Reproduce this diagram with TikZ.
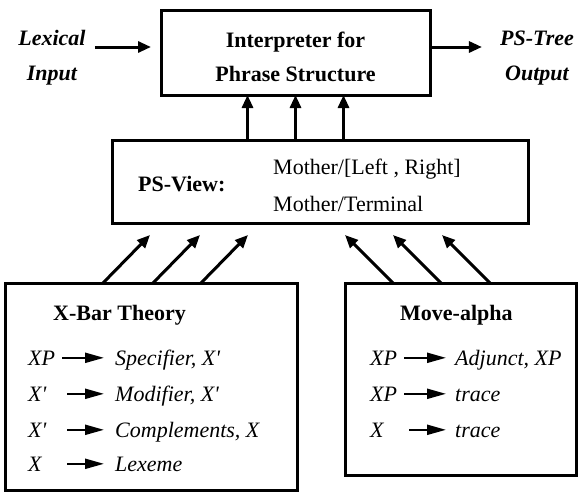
\documentclass[tikz,border=0pt]{standalone}
\usepackage{fontspec}
\setmainfont{Liberation Serif}
\usetikzlibrary{arrows.meta}
\newcommand{\pr}{\textquotesingle}
\begin{document}
\begin{tikzpicture}[x=1pt,y=-1pt,
  box/.style={draw, line width=3pt, inner sep=0pt, outer sep=0pt},
  bigarrow/.style={line width=3pt, -{Triangle[length=13pt,width=11pt]}},
  rulearrow/.style={line width=2.2pt, -{Triangle[length=19pt,width=10pt]}},
  bftxt/.style={font=\fontsize{22}{34}\selectfont\bfseries, inner sep=0pt},
  ittxt/.style={font=\fontsize{22}{34}\selectfont\itshape, inner sep=0pt, anchor=base west},
  bitxt/.style={font=\fontsize{22}{35}\selectfont\bfseries\itshape, inner sep=0pt, align=center},
  rmtxt/.style={font=\fontsize{22}{37}\selectfont, inner sep=0pt, align=left}
]
\useasboundingbox (0,0) rectangle (580,501);

% boxes
\node[box, minimum width=269pt, minimum height=85pt] (interp) at (295.5,52.5) {};
\node[box, minimum width=416pt, minimum height=83pt] (psview) at (320,181.5) {};
\node[box, minimum width=292pt, minimum height=207pt] (xbar) at (151,386.5) {};
\node[box, minimum width=231pt, minimum height=192pt] (move) at (460.5,379) {};

% top box text
\node[bftxt, align=center] (interpT) at (295.5,57) {Interpreter for\\Phrase Structure};

% input / output
\node[bitxt] (lexin) at (52,58) {Lexical\\Input};
\node[bitxt] (ptree) at (537,58) {PS-Tree\\Output};
\coordinate (ioy) at (0,47);
\draw[bigarrow, shorten <=9pt, shorten >=10pt] (lexin.east |- ioy) -- (interp.west |- ioy);
\draw[bigarrow, shorten >=18pt] (interp.east |- ioy) -- (ptree.west |- ioy);

% PS-View
\node[bftxt, anchor=west] (psl) at (138,184) {PS-View:};
\node[rmtxt, anchor=west] (psr) at (273,185) {Mother/[Left , Right]\\Mother/Terminal};

% vertical arrows
\draw[bigarrow] ([xshift=-48pt]interp.south |- psview.north) -- ([xshift=-48pt]interp.south);
\draw[bigarrow] (interp.south |- psview.north) -- (interp.south);
\draw[bigarrow] ([xshift=48pt]interp.south |- psview.north) -- ([xshift=48pt]interp.south);

% diagonal arrows
\coordinate (dl1) at (150,235);
\coordinate (dl2) at (200,235);
\coordinate (dl3) at (248,235);
\coordinate (dr1) at (345,235);
\coordinate (dr2) at (393,235);
\coordinate (dr3) at (442,235);
\draw[bigarrow] ([xshift=-47pt]dl1 |- xbar.north) -- (dl1);
\draw[bigarrow] ([xshift=-47pt]dl2 |- xbar.north) -- (dl2);
\draw[bigarrow] ([xshift=-47pt]dl3 |- xbar.north) -- (dl3);
\draw[bigarrow] ([xshift=48pt]dr1 |- move.north) -- (dr1);
\draw[bigarrow] ([xshift=48pt]dr2 |- move.north) -- (dr2);
\draw[bigarrow] ([xshift=48pt]dr3 |- move.north) -- (dr3);

% X-Bar Theory
\node[bftxt, anchor=base west] (xbt) at (53,320) {X-Bar Theory};
\node[ittxt] (xl1) at (28,365) {XP};
\node[ittxt] (xr1) at (115,365) {Specifier, X\pr};
\node[ittxt] (xl2) at (28,401) {X\pr};
\node[ittxt] (xr2) at (115,401) {Modifier, X\pr};
\node[ittxt] (xl3) at (28,437) {X\pr};
\node[ittxt] (xr3) at (115,437) {Complements, X};
\node[ittxt] (xl4) at (28,471) {X};
\node[ittxt] (xr4) at (115,471) {Lexeme};
\coordinate (xa0) at (62,0);
\coordinate (xa1) at (67,0);
\coordinate (xa2) at (104,0);
\draw[rulearrow] (xa0 |- xl1.center) -- (xa2 |- xl1.center);
\draw[rulearrow] (xa1 |- xl2.center) -- (xa2 |- xl2.center);
\draw[rulearrow] (xa1 |- xl3.center) -- (xa2 |- xl3.center);
\draw[rulearrow] (xa1 |- xl4.center) -- (xa2 |- xl4.center);

% Move-alpha
\node[bftxt, anchor=base west] (mvt) at (400,320) {Move-alpha};
\node[ittxt] (ml1) at (370,365) {XP};
\node[ittxt] (mr1) at (455,365) {Adjunct, XP};
\node[ittxt] (ml2) at (370,401) {XP};
\node[ittxt] (mr2) at (455,401) {trace};
\node[ittxt] (ml3) at (370,437) {X};
\node[ittxt] (mr3) at (455,437) {trace};
\coordinate (ma0) at (404,0);
\coordinate (ma1) at (409,0);
\coordinate (ma2) at (446,0);
\draw[rulearrow] (ma0 |- ml1.center) -- (ma2 |- ml1.center);
\draw[rulearrow] (ma0 |- ml2.center) -- (ma2 |- ml2.center);
\draw[rulearrow] (ma1 |- ml3.center) -- (ma2 |- ml3.center);
\end{tikzpicture}
\end{document}
